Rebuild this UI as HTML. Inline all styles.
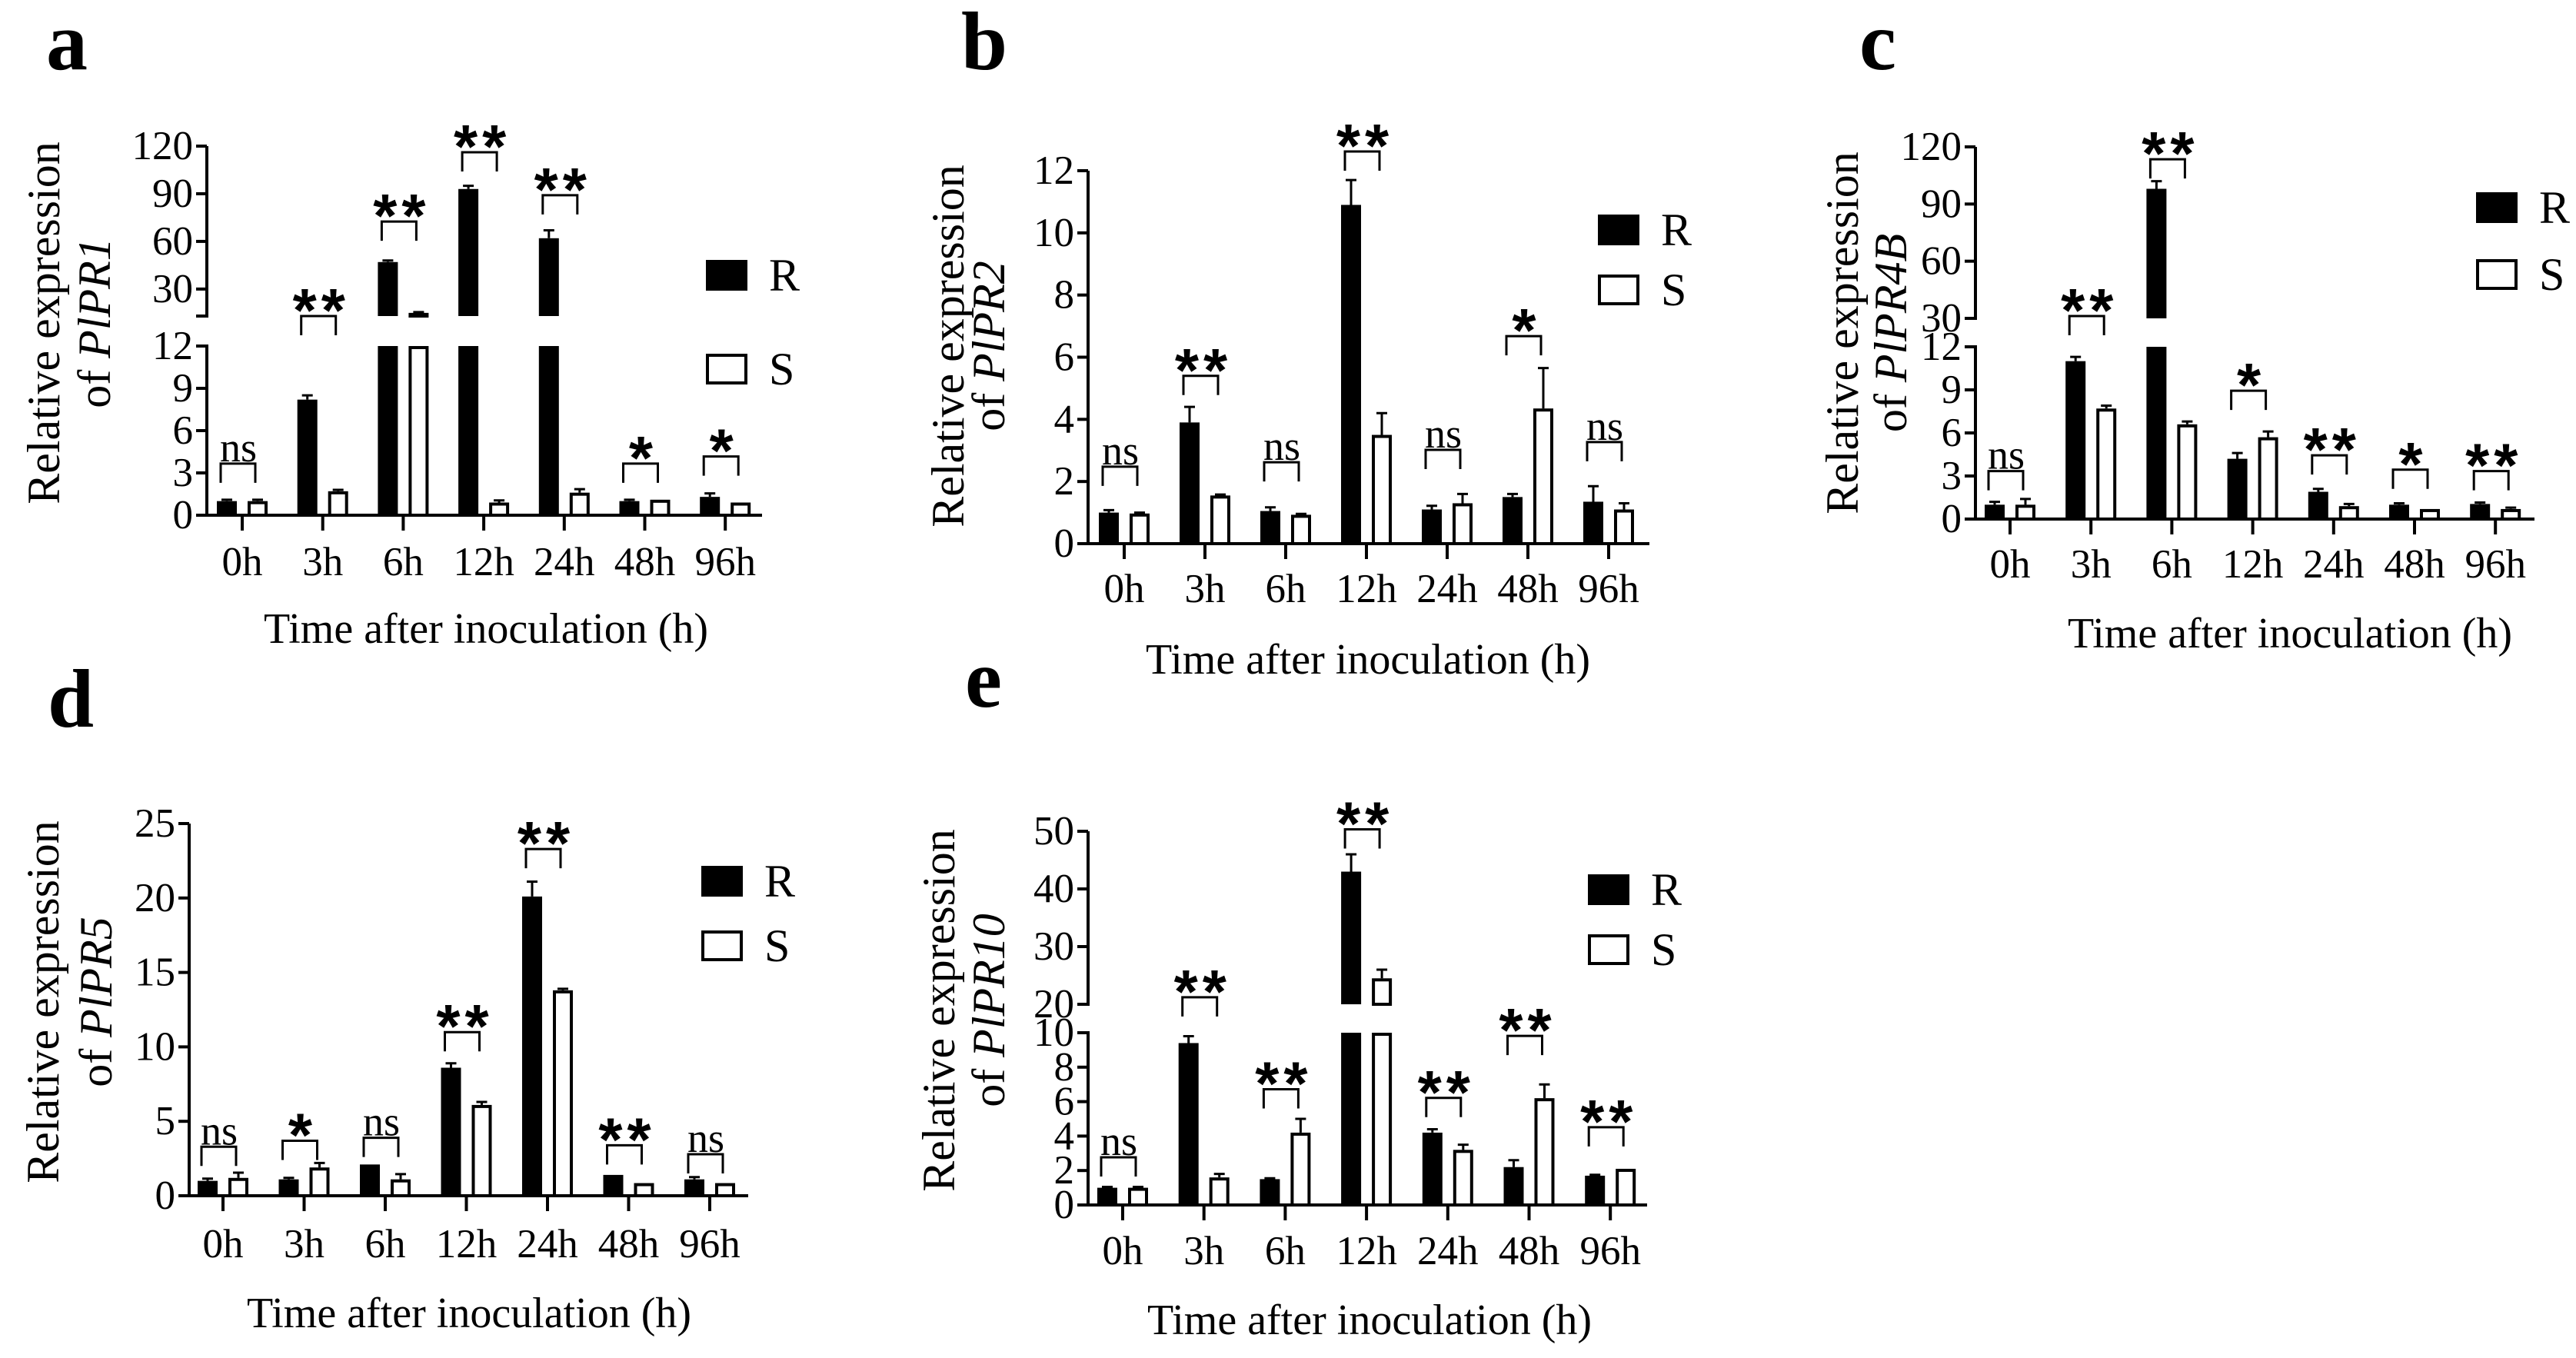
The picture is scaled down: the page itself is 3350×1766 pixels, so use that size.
<!DOCTYPE html>
<html><head><meta charset="utf-8"><style>
html,body{margin:0;padding:0;background:#fff}
svg{display:block}
text{font-family:"Liberation Serif",serif;fill:#000}
.star{font-family:"Liberation Sans",sans-serif;font-weight:bold}
</style></head><body>
<svg id="fig" width="3350" height="1766" viewBox="0 0 3350 1766" xmlns="http://www.w3.org/2000/svg"></svg>
<script>
const categories = ["0h","3h","6h","12h","24h","48h","96h"];
// Panel a – PlPR1
const aR = [1.0, 8.2, 47, 93, 62, 1.0, 1.3];
const aRerr = [0.1, 0.3, 1, 2, 5, 0.1, 0.25];
const aS = [1.0, 1.7, 15, 0.9, 1.6, 1.1, 0.9];
const aSerr = [0.1, 0.1, 0.5, 0.15, 0.25, 0.05, 0.05];
const aSig = ["ns","**","**","**","**","*","*"];
const aBracket = [2.3, 12.36, 60.4, 104, 77, 2.3, 2.8];
// Panel b – PlPR2
const bR = [1.0, 3.9, 1.05, 10.9, 1.1, 1.5, 1.35];
const bRerr = [0.08, 0.5, 0.12, 0.8, 0.12, 0.1, 0.5];
const bS = [0.97, 1.55, 0.93, 3.5, 1.3, 4.35, 1.1];
const bSerr = [0.03, 0.03, 0.03, 0.7, 0.3, 1.3, 0.2];
const bSig = ["ns","**","ns","**","ns","*","ns"];
const bBracket = [1.86, 4.78, 2.0, 12.0, 2.4, 6.06, 2.65];
// Panel c – PlPR4B
const cR = [1.0, 11.0, 98, 4.2, 1.9, 1.0, 1.05];
const cRerr = [0.2, 0.3, 4, 0.4, 0.2, 0.1, 0.1];
const cS = [1.0, 7.7, 6.6, 5.7, 0.9, 0.7, 0.7];
const cSerr = [0.4, 0.2, 0.2, 0.4, 0.15, 0.05, 0.1];
const cSig = ["ns","**","**","*","**","*","**"];
const cBracket = [2.0, 19.3, 103.4, 7.6, 3.1, 2.1, 2.0];
// Panel d – PlPR5
const dR = [1.0, 1.1, 2.1, 8.6, 20.1, 1.4, 1.1];
const dRerr = [0.15, 0.1, 0.05, 0.3, 1.0, 0.05, 0.15];
const dS = [1.2, 1.9, 1.1, 6.1, 13.8, 0.85, 0.85];
const dSerr = [0.35, 0.3, 0.35, 0.2, 0.1, 0.05, 0.05];
const dSig = ["ns","*","ns","**","**","**","ns"];
const dBracket = [2.0, 2.4, 2.6, 9.7, 22.0, 2.1, 1.5];
// Panel e – PlPR10
const eR = [1.0, 9.4, 1.5, 43, 4.2, 2.2, 1.7];
const eRerr = [0.05, 0.4, 0.05, 3, 0.2, 0.4, 0.05];
const eS = [1.0, 1.6, 4.2, 24.5, 3.2, 6.2, 2.1];
const eSerr = [0.05, 0.2, 0.8, 1.5, 0.3, 0.8, 0.02];
const eSig = ["ns","**","**","**","**","**","**"];
const eBracket = [1.65, 15.7, 5.6, 47, 5.1, 8.7, 3.4];
// tick labels
const aTicksLow = [0,3,6,9,12], aTicksHigh = [30,60,90,120];
const bTicks = [0,2,4,6,8,10,12];
const cTicksLow = [0,3,6,9,12], cTicksHigh = [30,60,90,120];
const dTicks = [0,5,10,15,20,25];
const eTicksLow = [0,2,4,6,8,10], eTicksHigh = [20,30,40,50];

const NS = "http://www.w3.org/2000/svg";
const svg = document.getElementById("fig");
function mk(tag, attrs, parent, txt){
  const e = document.createElementNS(NS, tag);
  for (const k in attrs) e.setAttribute(k, attrs[k]);
  if (txt !== undefined) e.textContent = txt;
  (parent || svg).appendChild(e);
  return e;
}
function makeY(low, high){
  return function(v){
    if (!high || v <= low.v1) return low.y0 + (v - low.v0) * (low.y1 - low.y0) / (low.v1 - low.v0);
    if (v >= high.v0) return high.y0 + (v - high.v0) * (high.y1 - high.y0) / (high.v1 - high.v0);
    return low.y1 + (v - low.v1) * (high.y0 - low.y1) / (high.v0 - low.v1);
  };
}

function panel(p){
  const g = mk("g", {});
  
  
  const y = makeY(p.low, p.high);
  const catX = i => p.cat0 + i * p.step;
  const L = mk("text", {x:p.letterX, y:p.letterY, "font-size":108, "font-weight":"bold"}, g, p.id);
  
  
  const segs = p.high ? [p.low, p.high] : [p.low];
  segs.forEach((s, si) => {
    const ax = mk("line", {x1:p.axisX, x2:p.axisX, y1:s.y0 + (si===0?2:0), y2:s.y1, stroke:"#000", "stroke-width":4}, g);
    
    
    if (p.high) {
      const bt = mk("line", {x1:p.axisX-14, x2:p.axisX+2, y1:si===0 ? s.y1 : s.y0, y2:si===0 ? s.y1 : s.y0, stroke:"#000", "stroke-width":4}, g);
      
      
    }
  });
  p.ticks.forEach(t => {
    const ty = y(t);
    const tl = mk("line", {x1:p.axisX-14, x2:p.axisX, y1:ty, y2:ty, stroke:"#000", "stroke-width":4}, g);
    
    
    const tx = mk("text", {x:p.axisX-18, y:ty+17, "font-size":53, "text-anchor":"end"}, g, String(t));
    
    
  });
  const base = y(0);
  const xa = mk("line", {x1:p.axisX-2, x2:p.axisRight, y1:base, y2:base, stroke:"#000", "stroke-width":4}, g);
  
  
  categories.forEach((c, i) => {
    const cx = catX(i);
    const tk = mk("line", {x1:cx, x2:cx, y1:base, y2:base+20, stroke:"#000", "stroke-width":4}, g);
    
    
    const lb = mk("text", {x:cx, y:p.labelY+18, "font-size":53, "text-anchor":"middle"}, g, c);
    
    
  });
  const xt = mk("text", {x:p.titleX, y:p.titleY+19, "font-size":56, "text-anchor":"middle"}, g, "Time after inoculation (h)");
  
  
  const yt1 = mk("text", {x:0, y:0, "font-size":60, "text-anchor":"middle", transform:`translate(${p.yl1+18},${p.ylc}) rotate(-90)`}, g, "Relative expression");
  
  
  const yt2 = mk("text", {x:0, y:0, "font-size":60, "text-anchor":"middle", transform:`translate(${p.yl2+18},${p.ylc}) rotate(-90)`}, g);
  
  
  mk("tspan", {}, yt2, "of ");
  mk("tspan", {"font-style":"italic"}, yt2, p.gene);
  function drawBar(v, err, cx, filled, series){
    const w = 26;
    const parts = [];
    if (p.high && v > p.low.v1) {
      parts.push([0, p.low.v1]);
      if (v > p.high.v0) parts.push([p.high.v0, v]);
    } else parts.push([0, v]);
    parts.forEach(([a, b]) => {
      const y1 = y(b), y0 = y(a);
      const r = mk("rect", {x:cx - w/2 + (filled?0:2), y:y1 + (filled?0:2), width:w - (filled?0:4), height:Math.max(0, y0 - y1 - (filled?0:2)), fill:filled?"#000":"#fff", stroke:"#000", "stroke-width":filled?0:4}, g);
      
      
    });
    const top = y(v), et = y(v + err);
    if (top - et > 1) {
      const el = mk("path", {d:`M${cx},${top} V${et} M${cx-7},${et} H${cx+7}`, stroke:"#000", "stroke-width":3, fill:"none"}, g);
      
      
    }
  }
  categories.forEach((c, i) => {
    drawBar(p.R[i], p.Rerr[i], catX(i) - 20, true, 'r');
    drawBar(p.S[i], p.Serr[i], catX(i) + 20, false, 's');
    const bb = y(p.br[i]), bt = bb - 25, cx = catX(i);
    const br = mk("path", {d:`M${cx-28},${bb} V${bt} H${cx+17} V${bb}`, stroke:"#000", "stroke-width":3, fill:"none"}, g);
    
    
    const mid = cx - 5;
    let st;
    if (p.sig[i] === "ns") st = mk("text", {x:mid, y:bt-3, "font-size":54, "text-anchor":"middle"}, g, "ns");
    else st = mk("text", {x:mid + (p.sig[i].length>1?3:0), y:bt+20, "font-size":80, "text-anchor":"middle", "letter-spacing":p.sig[i].length>1?6:0, class:"star"}, g, p.sig[i]);
    
    
  });
  [["R", p.legY[0], true], ["S", p.legY[1], false]].forEach(([lab, ly, f]) => {
    const r = mk("rect", {x:p.legX + (f?0:2), y:ly + (f?0:2), width:54 - (f?0:4), height:40 - (f?0:4), fill:f?"#000":"#fff", stroke:"#000", "stroke-width":f?0:4}, g);
    
    
    const t = mk("text", {x:p.legX + 82, y:ly + 40, "font-size":60}, g, lab);
    
    
  });
}

panel({id:"a", gene:"PlPR1", R:aR, Rerr:aRerr, S:aS, Serr:aSerr, sig:aSig, br:aBracket,
  low:{v0:0,v1:12,y0:670,y1:450}, high:{v0:13,v1:120,y0:411,y1:190}, ticks:aTicksLow.concat(aTicksHigh),
  axisX:269, cat0:315, step:104.7, axisRight:991, labelY:730, titleX:632, titleY:817,
  letterX:60, letterY:90, legX:918, legY:[338,460], yl1:59, yl2:125, ylc:420});
panel({id:"b", gene:"PlPR2", R:bR, Rerr:bRerr, S:bS, Serr:bSerr, sig:bSig, br:bBracket,
  low:{v0:0,v1:12,y0:707,y1:222}, high:null, ticks:bTicks,
  axisX:1415, cat0:1462, step:105, axisRight:2145, labelY:765, titleX:1779, titleY:857,
  letterX:1250, letterY:90, legX:2078, legY:[279,357], yl1:1235, yl2:1288, ylc:450});
panel({id:"c", gene:"PlPR4B", R:cR, Rerr:cRerr, S:cS, Serr:cSerr, sig:cSig, br:cBracket,
  low:{v0:0,v1:12,y0:675,y1:451}, high:{v0:30,v1:120,y0:414,y1:191}, ticks:cTicksLow.concat(cTicksHigh),
  axisX:2569, cat0:2614, step:105.2, axisRight:3296, labelY:733, titleX:2978, titleY:823,
  letterX:2418, letterY:90, legX:3220, legY:[250,337], yl1:2398, yl2:2461, ylc:433});
panel({id:"d", gene:"PlPR5", R:dR, Rerr:dRerr, S:dS, Serr:dSerr, sig:dSig, br:dBracket,
  low:{v0:0,v1:25,y0:1555,y1:1071}, high:null, ticks:dTicks,
  axisX:246, cat0:290, step:105.5, axisRight:973, labelY:1617, titleX:610, titleY:1707,
  letterX:62, letterY:945, legX:912, legY:[1126,1210], yl1:58, yl2:127, ylc:1303});
panel({id:"e", gene:"PlPR10", R:eR, Rerr:eRerr, S:eS, Serr:eSerr, sig:eSig, br:eBracket,
  low:{v0:0,v1:10,y0:1567,y1:1343}, high:{v0:20,v1:50,y0:1306,y1:1081}, ticks:eTicksLow.concat(eTicksHigh),
  axisX:1415, cat0:1460, step:105.7, axisRight:2142, labelY:1626, titleX:1781, titleY:1716,
  letterX:1255, letterY:919, legX:2065, legY:[1137,1215], yl1:1223, yl2:1288, ylc:1314});
</script>
</body></html>
